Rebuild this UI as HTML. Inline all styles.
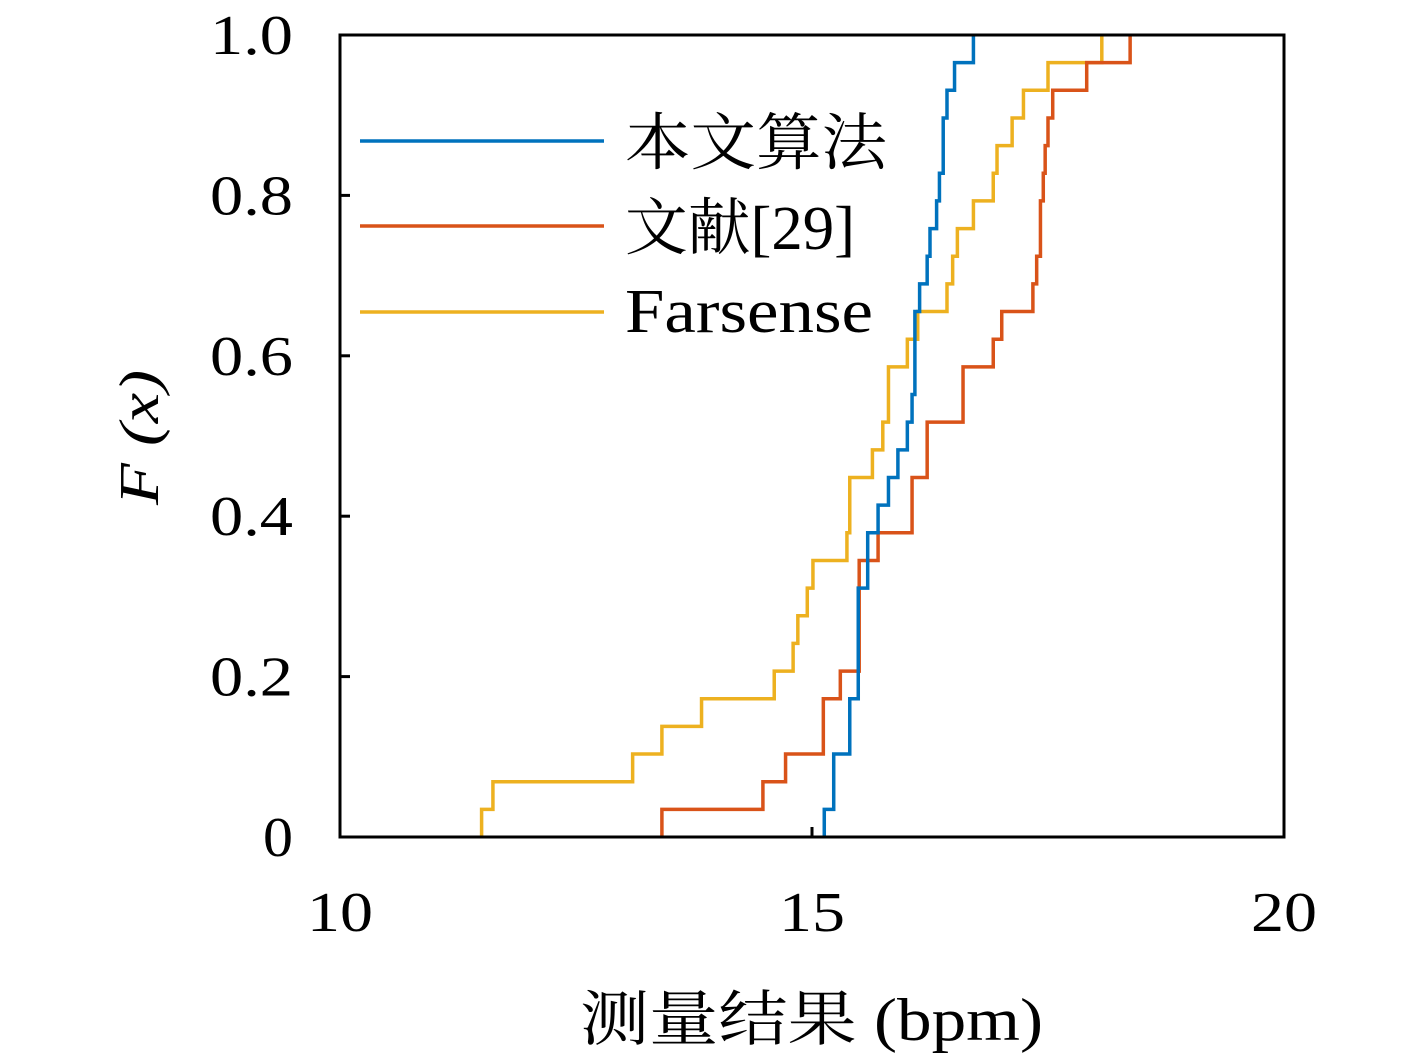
<!DOCTYPE html>
<html><head><meta charset="utf-8"><style>
html,body{margin:0;padding:0;background:#fff;}
svg{display:block;}
text{font-family:"Liberation Serif","Noto Serif CJK SC",serif;fill:#000;}
</style></head><body>
<svg id="chart" width="1417" height="1058" viewBox="0 0 1417 1058" xmlns="http://www.w3.org/2000/svg">
<g id="ticks"></g>
<g id="series"></g>
<rect x="340" y="35" width="944" height="802" fill="none" stroke="#000" stroke-width="3"/>
<g>
<line x1="360" y1="141" x2="604" y2="141" stroke="#0072BD" stroke-width="3.5"/>
<text x="625" y="164" font-size="62" textLength="262" lengthAdjust="spacingAndGlyphs" font-family="Noto Serif CJK SC, serif">本文算法</text>
<line x1="360" y1="226" x2="604" y2="226" stroke="#D95319" stroke-width="3.5"/>
<text x="625" y="249" font-size="62" textLength="230" lengthAdjust="spacingAndGlyphs"><tspan font-family="Noto Serif CJK SC, serif">文献</tspan>[29]</text>
<line x1="360" y1="312" x2="604" y2="312" stroke="#EDB120" stroke-width="3.5"/>
<text x="625" y="332" font-size="62" textLength="248" lengthAdjust="spacingAndGlyphs">Farsense</text>
</g>
<text x="580" y="1040" font-size="60" textLength="463" lengthAdjust="spacingAndGlyphs"><tspan font-family="Noto Serif CJK SC, serif">测量结果</tspan> (bpm)</text>
<text transform="translate(158,505) rotate(-90)" font-size="56" font-style="italic" textLength="135" lengthAdjust="spacingAndGlyphs">F (x)</text>
</svg>
<script>
const blueVals=[15.13,15.23,15.23,15.40,15.40,15.49,15.49,15.49,15.49,15.59,15.59,15.70,15.81,15.91,16.01,16.06,16.09,16.09,16.09,16.14,16.22,16.25,16.32,16.35,16.39,16.39,16.43,16.51,16.71];
const redVals=[13.41,14.48,14.72,15.12,15.12,15.30,15.50,15.50,15.50,15.50,15.70,16.06,16.06,16.22,16.22,16.60,16.60,16.92,17.01,17.34,17.38,17.42,17.42,17.45,17.47,17.50,17.55,17.91,18.37];
const yellowVals=[11.50,11.62,13.10,13.41,13.83,14.60,14.80,14.85,14.95,15.01,15.37,15.40,15.40,15.64,15.75,15.81,15.81,16.01,16.12,16.43,16.49,16.54,16.71,16.92,16.96,17.12,17.24,17.50,18.07];
const xTicks=[10,15,20];
const yTicks=[0,0.2,0.4,0.6,0.8,1.0];
const yTickLabels=["0","0.2","0.4","0.6","0.8","1.0"];
const X0=340,X1=1284,Y0=837,Y1=35,XMIN=10,XMAX=20;
const xs=v=>X0+(v-XMIN)/(XMAX-XMIN)*(X1-X0);
const ys=v=>Y0-v*(Y0-Y1);
const NS="http://www.w3.org/2000/svg";
const tg=document.getElementById('ticks');
xTicks.forEach(t=>{
  const l=document.createElementNS(NS,'line');
  
  
  l.setAttribute('x1',xs(t));l.setAttribute('x2',xs(t));l.setAttribute('y1',Y0);l.setAttribute('y2',Y0-10);
  l.setAttribute('stroke','#000');l.setAttribute('stroke-width','3');tg.appendChild(l);
  const tx=document.createElementNS(NS,'text');
  
  
  tx.setAttribute('x',xs(t)-33);tx.setAttribute('y',931);tx.setAttribute('font-size','56');
  tx.setAttribute('textLength','66');tx.setAttribute('lengthAdjust','spacingAndGlyphs');
  tx.textContent=String(t);tg.appendChild(tx);
});
yTicks.forEach((t,i)=>{
  const l=document.createElementNS(NS,'line');
  
  
  l.setAttribute('x1',X0);l.setAttribute('x2',X0+10);l.setAttribute('y1',ys(t));l.setAttribute('y2',ys(t));
  l.setAttribute('stroke','#000');l.setAttribute('stroke-width','3');tg.appendChild(l);
  const tx=document.createElementNS(NS,'text');
  
  
  const w=yTickLabels[i].length>1?83:30;
  tx.setAttribute('x',293-w);tx.setAttribute('y',ys(t)+19);tx.setAttribute('font-size','56');
  tx.setAttribute('textLength',w);tx.setAttribute('lengthAdjust','spacingAndGlyphs');
  tx.textContent=yTickLabels[i];tg.appendChild(tx);
});
const sg=document.getElementById('series');
function ecdf(vals,color,name){
  const n=vals.length;
  let d='M'+xs(vals[0])+','+ys(0);
  for(let i=0;i<n;i++){
    d+=' V'+ys((i+1)/n);
    if(i<n-1) d+=' H'+xs(vals[i+1]);
  }
  const p=document.createElementNS(NS,'path');
  
  
  p.setAttribute('d',d);p.setAttribute('fill','none');p.setAttribute('stroke',color);p.setAttribute('stroke-width','3.5');
  sg.appendChild(p);
}
ecdf(yellowVals,'#EDB120','farsense-line');
ecdf(redVals,'#D95319','ref29-line');
ecdf(blueVals,'#0072BD','ours-line');
</script>
</body></html>
